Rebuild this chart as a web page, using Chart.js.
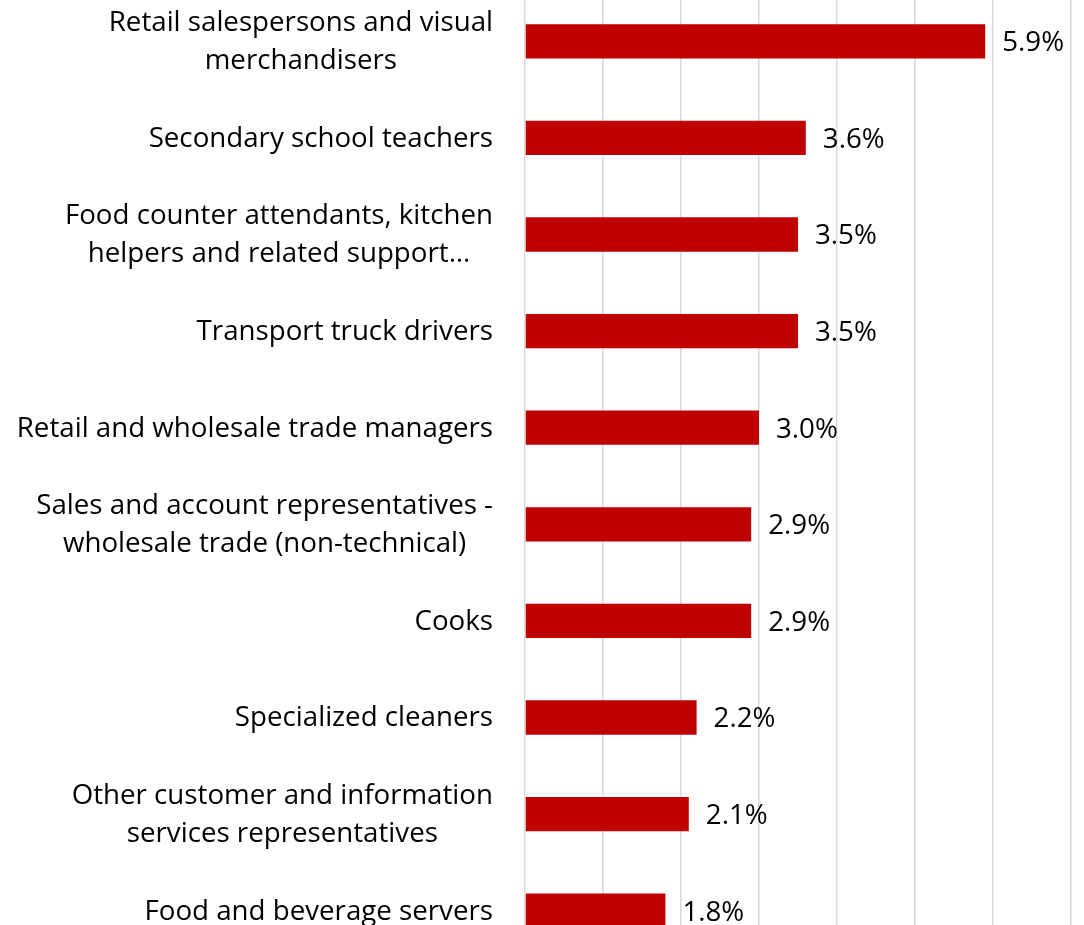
<!DOCTYPE html>
<html>
<head>
<meta charset="utf-8">
<script src="https://cdn.jsdelivr.net/npm/chart.js@4/dist/chart.umd.min.js"></script>
<style>
  html, body { margin: 0; padding: 0; background: #fff; overflow: hidden; }
  #wrap { position: absolute; left: 0; top: -7px; width: 1084px; height: 966px; }
</style>
</head>
<body>
<div id="wrap"><canvas id="occChart"></canvas></div>
<script>
// Occupations, each label split into the lines it is shown on
const occupations = [
    ['Retail salespersons and visual', 'merchandisers'],
    ['Secondary school teachers'],
    ['Food counter attendants, kitchen', 'helpers and related support…'],
    ['Transport truck drivers'],
    ['Retail and wholesale trade managers'],
    ['Sales and account representatives -', 'wholesale trade (non-technical)'],
    ['Cooks'],
    ['Specialized cleaners'],
    ['Other customer and information', 'services representatives'],
    ['Food and beverage servers']
];
// Share of workers (%)
const shares = [5.9, 3.6, 3.5, 3.5, 3.0, 2.9, 2.9, 2.2, 2.1, 1.8];
// Gridline steps on the value axis
const axisMax = 7;
const axisStep = 1;

const FONT = '27.7px "Open Sans", "Noto Sans", sans-serif';

// Category labels: right edge fixed, lines of one label centred on each other
const categoryLabels = {
    id: 'categoryLabels',
    afterDraw(chart) {
        const ctx = chart.ctx;
        const yScale = chart.scales.y;
        const right = chart.chartArea.left - 32;
        ctx.save();
        ctx.font = FONT;
        ctx.fillStyle = '#000';
        ctx.textAlign = 'center';
        ctx.textBaseline = 'middle';
        occupations.forEach((lines, i) => {
            const y = yScale.getPixelForTick(i) + 1;
            const widest = Math.max(...lines.map(l => ctx.measureText(l).width));
            const cx = right - widest / 2;
            lines.forEach((line, j) => {
                ctx.fillText(line, cx, y + (j - (lines.length - 1) / 2) * 38);
            });
        });
        ctx.restore();
    }
};

// Value labels at the end of each bar
const valueLabels = {
    id: 'valueLabels',
    afterDatasetsDraw(chart) {
        const ctx = chart.ctx;
        const meta = chart.getDatasetMeta(0);
        ctx.save();
        ctx.font = FONT;
        ctx.fillStyle = '#000';
        ctx.textAlign = 'left';
        ctx.textBaseline = 'middle';
        meta.data.forEach((bar, i) => {
            ctx.fillText(shares[i].toFixed(1) + '%', bar.x + 17, bar.y + 2);
        });
        ctx.restore();
    }
};

const ctx = document.getElementById('occChart').getContext('2d');
const occChart = new Chart(ctx, {
    type: 'bar',
    data: {
        labels: occupations.map(l => l.join(' ')),
        datasets: [{
            data: shares,
            backgroundColor: '#C00000',
            borderWidth: 0,
            categoryPercentage: 1,
            barPercentage: 0.355
        }]
    },
    options: {
        indexAxis: 'y',
        responsive: true,
        maintainAspectRatio: false,
        animation: false,
        layout: { padding: { left: 0, right: 13, top: 0, bottom: 0 } },
        plugins: {
            legend: { display: false },
            tooltip: { enabled: false }
        },
        scales: {
            x: {
                min: 0,
                max: axisMax,
                ticks: { display: false, stepSize: axisStep },
                grid: { color: '#d9d9d9', lineWidth: 1.5, drawTicks: false },
                border: { display: false }
            },
            y: {
                ticks: { display: false },
                grid: { display: false, drawTicks: false },
                border: { display: false },
                afterFit(scale) { scale.width = 525; }
            }
        }
    },
    plugins: [categoryLabels, valueLabels]
});
</script>
</body>
</html>
